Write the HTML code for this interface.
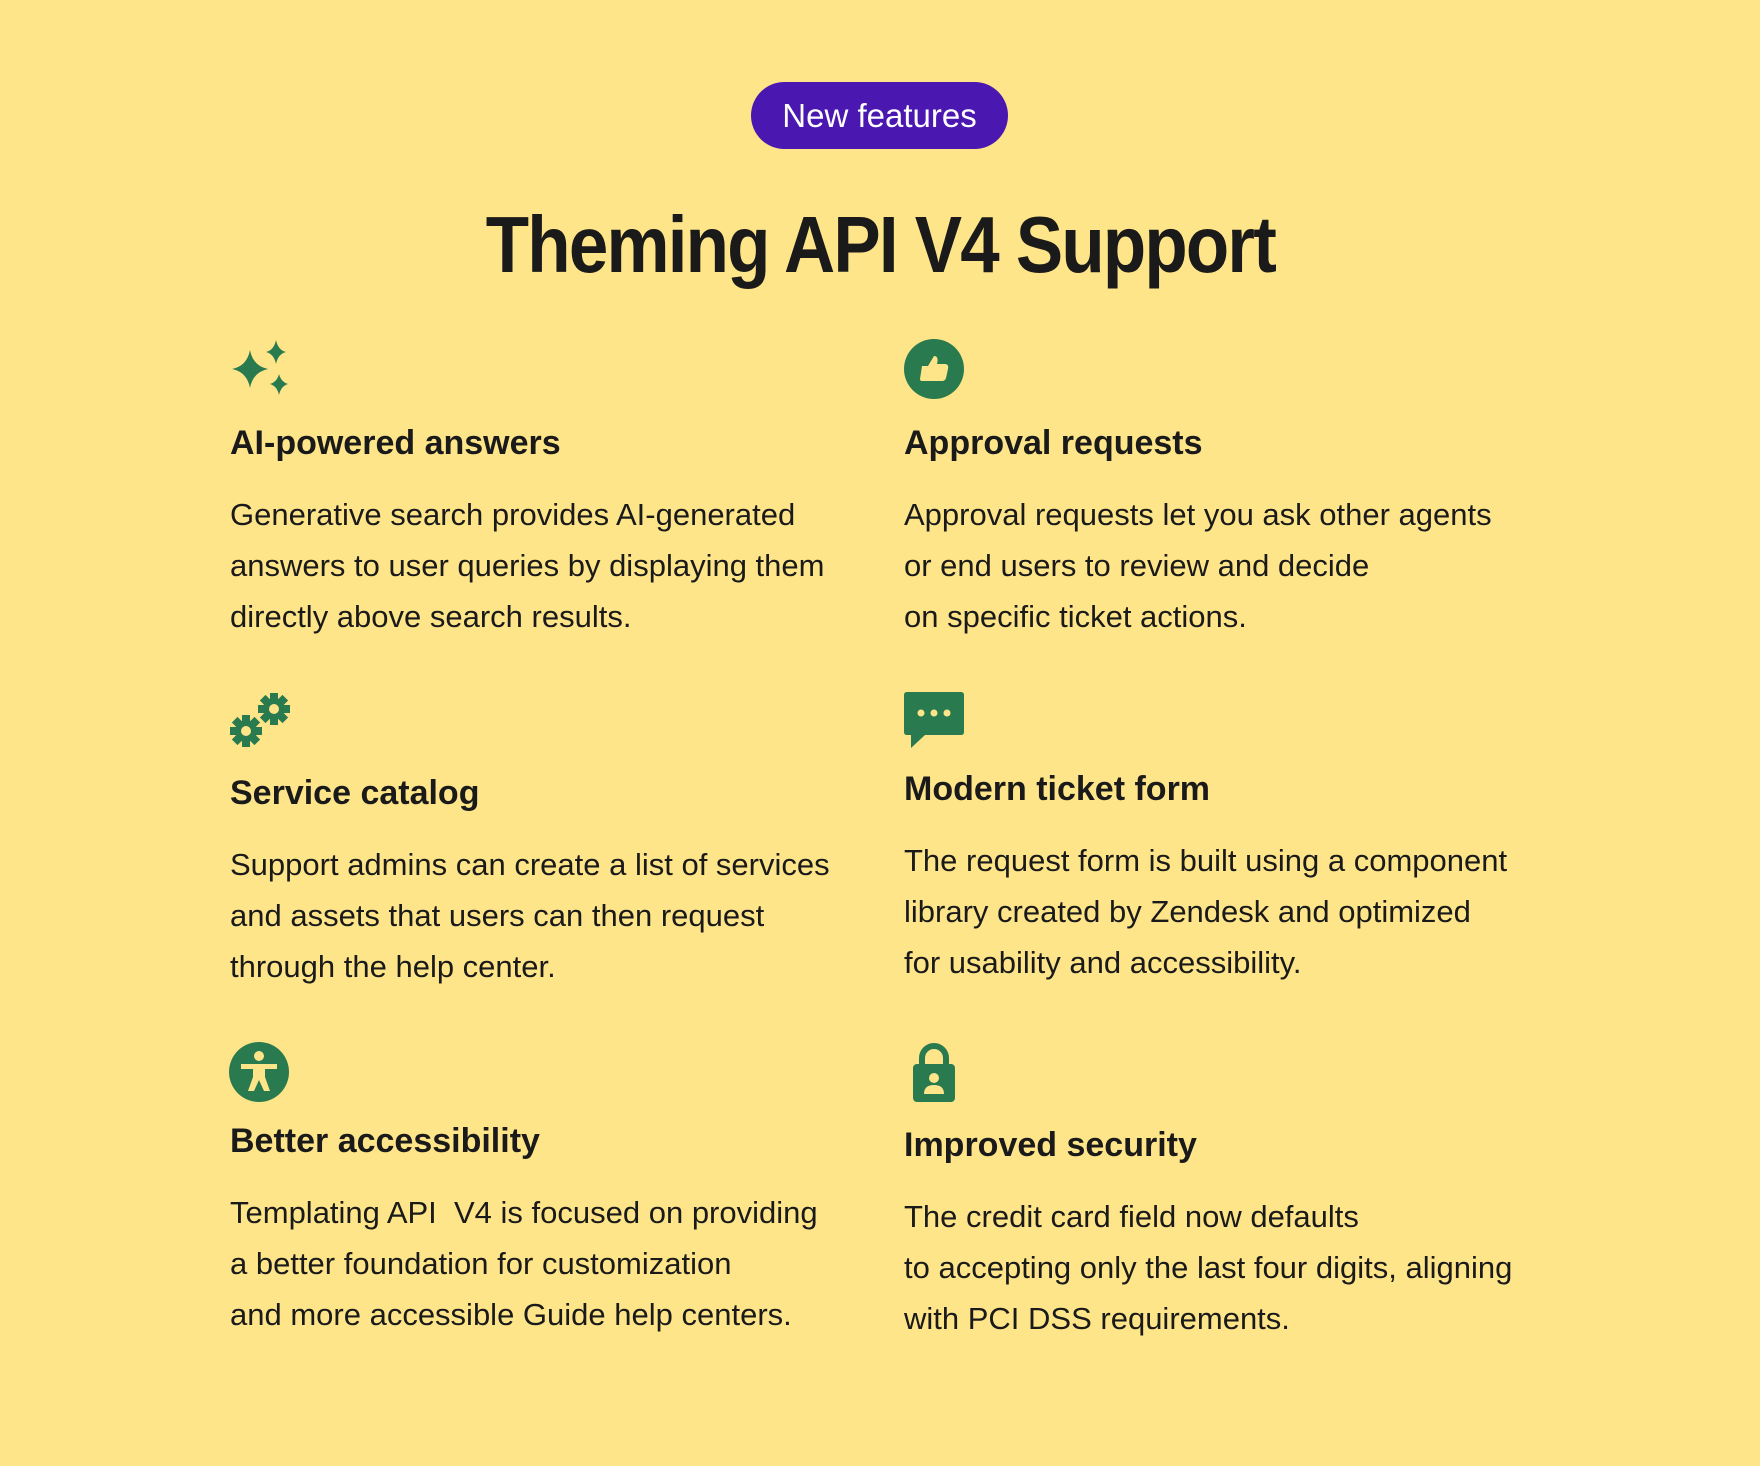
<!DOCTYPE html>
<html><head><meta charset="utf-8"><style>
html,body{margin:0;padding:0}
body{width:1760px;height:1466px;background:#fee589;position:relative;overflow:hidden;font-family:"Liberation Sans",sans-serif;color:#1a1a1a}
.pill{position:absolute;left:751px;top:82px;width:257px;height:67px;border-radius:34px;background:#4a17b0;color:#fff;font-size:33px;line-height:67px;text-align:center}
.title{position:absolute;left:0;width:1760px;top:200px;text-align:center;font-weight:bold;font-size:80px;line-height:90px;letter-spacing:-2px}
.title span{display:inline-block;transform:scaleX(0.886)}
.h{position:absolute;font-weight:bold;font-size:34px;line-height:36px;white-space:nowrap}
.b{position:absolute;font-size:31px;line-height:51px;white-space:nowrap}
.i{position:absolute}
</style></head><body>
<div class="pill">New features</div>
<div class="title"><span>Theming API V4 Support</span></div>

<svg class="i" style="left:230px;top:340px" width="62" height="60" viewBox="0 0 62 60" fill="#2a7a50">
<path d="M20 10 Q23 26 38 29 Q23 32 20 48 Q17 32 2 29 Q17 26 20 10Z"/>
<path d="M46 0 Q48 10 56 12 Q48 14 46 24 Q44 14 36 12 Q44 10 46 0Z"/>
<path d="M49 34 Q51 42 58 44 Q51 46 49 55 Q47 46 40 44 Q47 42 49 34Z"/>
</svg>

<svg class="i" style="left:904px;top:338px" width="60" height="62" viewBox="0 0 60 62">
<circle cx="30" cy="31" r="30" fill="#2a7a50"/>
<path d="M18 28 h6 l6-10 q5 0 3 8 h8 q4 0 3 5 l-2 9 q-1 3-4 3 h-20 q-2 0-2-2z" fill="#fee589"/>
</svg>

<svg class="i" style="left:229px;top:692px" width="64" height="58" viewBox="0 0 64 58" fill="#2a7a50">
<g transform="translate(17,39)"><circle r="11"/><g><rect x="-4" y="-16" width="8" height="32"/><rect x="-4" y="-16" width="8" height="32" transform="rotate(45)"/><rect x="-4" y="-16" width="8" height="32" transform="rotate(90)"/><rect x="-4" y="-16" width="8" height="32" transform="rotate(135)"/></g><circle r="5" fill="#fee589"/></g>
<g transform="translate(45,17)"><circle r="11"/><g><rect x="-4" y="-16" width="8" height="32"/><rect x="-4" y="-16" width="8" height="32" transform="rotate(45)"/><rect x="-4" y="-16" width="8" height="32" transform="rotate(90)"/><rect x="-4" y="-16" width="8" height="32" transform="rotate(135)"/></g><circle r="5" fill="#fee589"/></g>
</svg>

<svg class="i" style="left:904px;top:692px" width="60" height="56" viewBox="0 0 60 56">
<path d="M3 0 h54 q3 0 3 3 v37 q0 3-3 3 h-36 l-14 13 v-13 h-4 q-3 0-3-3 v-37 q0-3 3-3z" fill="#2a7a50"/>
<circle cx="17" cy="21" r="3.5" fill="#fee589"/><circle cx="30" cy="21" r="3.5" fill="#fee589"/><circle cx="43" cy="21" r="3.5" fill="#fee589"/>
</svg>

<svg class="i" style="left:229px;top:1042px" width="60" height="60" viewBox="0 0 60 60">
<circle cx="30" cy="30" r="30" fill="#2a7a50"/>
<circle cx="30" cy="14" r="5" fill="#fee589"/>
<path d="M12 22 h36 v5 h-12 v8 l5 14 h-6 l-5-11 l-5 11 h-6 l5-14 v-8 h-12z" fill="#fee589"/>
</svg>

<svg class="i" style="left:910px;top:1042px" width="48" height="60" viewBox="0 0 48 60">
<path d="M12 24 v-8 a12 12 0 0 1 24 0 v8" fill="none" stroke="#2a7a50" stroke-width="6"/>
<rect x="3" y="22" width="42" height="38" rx="4" fill="#2a7a50"/>
<circle cx="24" cy="36" r="5" fill="#fee589"/>
<path d="M14 52 q0-9 10-9 q10 0 10 9z" fill="#fee589"/>
</svg>

<div class="h" style="left:230px;top:425px">AI-powered answers</div>
<div class="b" style="left:230px;top:489px">Generative search provides AI-generated<br>answers to user queries by displaying them<br>directly above search results.</div>

<div class="h" style="left:904px;top:425px">Approval requests</div>
<div class="b" style="left:904px;top:489px">Approval requests let you ask other agents<br>or end users to review and decide<br>on specific ticket actions.</div>

<div class="h" style="left:230px;top:775px">Service catalog</div>
<div class="b" style="left:230px;top:839px">Support admins can create a list of services<br>and assets that users can then request<br>through the help center.</div>

<div class="h" style="left:904px;top:771px">Modern ticket form</div>
<div class="b" style="left:904px;top:835px">The request form is built using a component<br>library created by Zendesk and optimized<br>for usability and accessibility.</div>

<div class="h" style="left:230px;top:1123px">Better accessibility</div>
<div class="b" style="left:230px;top:1187px">Templating API&nbsp; V4 is focused on providing<br>a better foundation for customization<br>and more accessible Guide help centers.</div>

<div class="h" style="left:904px;top:1127px">Improved security</div>
<div class="b" style="left:904px;top:1191px">The credit card field now defaults<br>to accepting only the last four digits, aligning<br>with PCI DSS requirements.</div>
</body></html>
